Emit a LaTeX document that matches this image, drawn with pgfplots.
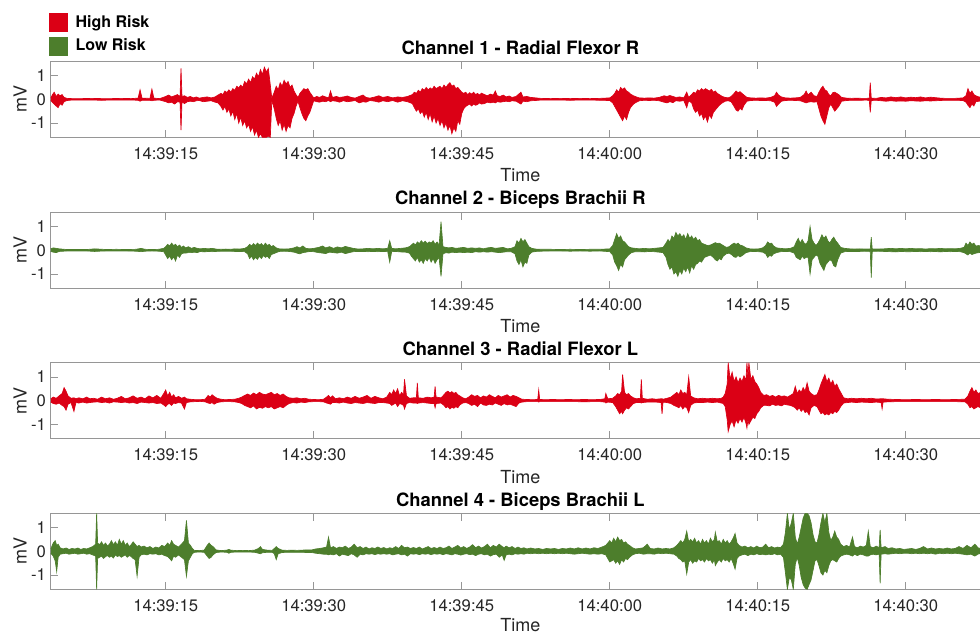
\documentclass[border=0pt]{standalone}
\usepackage{fontspec}
\setmainfont{TeX Gyre Heros}
\usepackage{pgfplots}
\pgfplotsset{compat=1.18}
\usepackage{pgfplotstable}
\usepgfplotslibrary{fillbetween}
\definecolor{hr}{RGB}{219,0,21}
\definecolor{lr}{RGB}{77,126,44}
\definecolor{axgray}{RGB}{150,150,150}
\definecolor{txt}{RGB}{38,38,38}

\pgfplotstableread{
t u l
3.35 0.05 -0.04
3.5 0.18 -0.12
3.7 0.30 -0.20
3.9 0.12 -0.28
4.1 0.22 -0.35
4.3 0.15 -0.18
4.5 0.20 -0.25
4.7 0.08 -0.10
5.0 0.04 -0.05
5.5 0.03 -0.03
6.5 0.03 -0.03
7.5 0.04 -0.03
8.5 0.03 -0.04
9.5 0.03 -0.03
10.5 0.04 -0.03
11.5 0.03 -0.03
12.2 0.05 -0.04
12.4 0.40 -0.08
12.6 0.05 -0.04
13.4 0.04 -0.04
13.6 0.43 -0.06
13.8 0.05 -0.04
14.4 0.03 -0.03
15.0 0.12 -0.10
15.3 0.18 -0.15
15.6 0.10 -0.12
15.9 0.15 -0.20
16.2 0.20 -0.10
16.45 0.10 -0.12
16.55 1.30 -1.30
16.65 0.12 -0.10
16.9 0.15 -0.18
17.2 0.08 -0.10
17.5 0.12 -0.08
17.8 0.06 -0.10
18.1 0.10 -0.06
18.4 0.05 -0.05
18.8 0.08 -0.10
19.2 0.10 -0.08
19.6 0.06 -0.06
20.0 0.10 -0.12
20.3 0.18 -0.15
20.6 0.25 -0.30
20.8 0.20 -0.45
21.0 0.35 -0.30
21.2 0.28 -0.55
21.4 0.40 -0.40
21.6 0.30 -0.70
21.8 0.45 -0.50
22.0 0.38 -0.85
22.2 0.55 -0.60
22.4 0.48 -1.00
22.6 0.60 -0.75
22.8 0.50 -1.10
23.0 0.75 -0.90
23.2 0.65 -1.20
23.4 0.85 -1.05
23.6 0.70 -1.35
23.8 0.95 -1.15
24.0 0.85 -1.50
24.2 1.10 -1.30
24.4 0.95 -1.60
24.6 1.25 -1.45
24.8 1.05 -1.60
25.0 1.35 -1.60
25.2 1.15 -1.60
25.4 1.30 -1.55
25.6 0.60 -1.60
25.75 0.05 -0.05
26.0 0.30 -0.40
26.2 0.55 -0.80
26.4 0.40 -1.10
26.6 0.70 -0.90
26.8 0.55 -1.30
27.0 0.80 -1.05
27.2 0.65 -1.35
27.4 0.75 -1.10
27.6 0.50 -1.20
27.8 0.60 -0.80
28.0 0.35 -0.60
28.2 0.20 -0.30
28.4 0.08 -0.08
28.6 0.25 -0.35
28.8 0.35 -0.60
29.0 0.45 -0.80
29.2 0.40 -0.90
29.4 0.45 -0.70
29.6 0.30 -0.55
29.8 0.18 -0.30
30.0 0.06 -0.06
30.3 0.12 -0.10
30.6 0.08 -0.12
30.9 0.15 -0.08
31.2 0.10 -0.10
31.5 0.06 -0.05
31.7 0.35 -0.10
31.9 0.08 -0.06
32.3 0.12 -0.08
32.6 0.08 -0.12
33.0 0.10 -0.06
33.4 0.14 -0.10
33.8 0.08 -0.08
34.2 0.05 -0.05
34.6 0.12 -0.15
35.0 0.18 -0.10
35.3 0.08 -0.12
35.7 0.05 -0.05
36.2 0.10 -0.08
36.6 0.15 -0.12
37.0 0.08 -0.06
37.5 0.12 -0.10
38.0 0.06 -0.05
38.5 0.10 -0.12
39.0 0.08 -0.06
39.5 0.12 -0.10
40.0 0.20 -0.18
40.2 0.30 -0.35
40.4 0.25 -0.50
40.6 0.38 -0.40
40.8 0.30 -0.60
41.0 0.45 -0.50
41.2 0.38 -0.75
41.4 0.50 -0.55
41.6 0.40 -0.85
41.8 0.48 -0.60
42.0 0.42 -0.95
42.2 0.55 -0.70
42.4 0.45 -1.00
42.6 0.50 -0.80
42.8 0.55 -1.10
43.0 0.45 -0.90
43.2 0.60 -1.20
43.4 0.50 -1.00
43.6 0.62 -1.30
43.8 0.70 -1.10
44.0 0.55 -1.45
44.2 0.60 -1.20
44.4 0.45 -1.35
44.6 0.50 -0.90
44.8 0.40 -1.05
45.0 0.30 -0.60
45.2 0.25 -0.40
45.4 0.30 -0.30
45.6 0.20 -0.25
45.8 0.28 -0.20
46.0 0.22 -0.28
46.2 0.30 -0.20
46.4 0.20 -0.25
46.6 0.25 -0.22
46.8 0.18 -0.15
47.0 0.26 -0.20
47.3 0.20 -0.18
47.6 0.15 -0.12
47.9 0.22 -0.15
48.2 0.18 -0.12
48.4 0.35 -0.15
48.6 0.15 -0.10
48.9 0.12 -0.12
49.2 0.18 -0.10
49.5 0.10 -0.08
49.8 0.14 -0.10
50.1 0.08 -0.06
50.5 0.12 -0.08
51.0 0.30 -0.20
51.2 0.10 -0.08
51.6 0.12 -0.10
52.0 0.08 -0.06
52.5 0.06 -0.05
53.0 0.04 -0.03
54.0 0.03 -0.03
55.0 0.04 -0.03
56.0 0.03 -0.04
57.0 0.04 -0.03
58.0 0.03 -0.03
59.0 0.04 -0.04
60.0 0.06 -0.05
60.3 0.15 -0.15
60.5 0.25 -0.30
60.7 0.40 -0.45
60.9 0.30 -0.60
61.1 0.50 -0.75
61.3 0.42 -0.90
61.5 0.48 -0.70
61.7 0.35 -0.85
61.9 0.30 -0.55
62.1 0.22 -0.35
62.4 0.15 -0.20
62.7 0.10 -0.12
63.0 0.06 -0.06
63.5 0.05 -0.04
64.0 0.06 -0.05
64.5 0.05 -0.04
65.0 0.08 -0.06
65.5 0.15 -0.12
65.8 0.12 -0.15
66.1 0.16 -0.10
66.4 0.12 -0.14
66.7 0.08 -0.06
67.1 0.10 -0.08
67.5 0.06 -0.05
67.8 0.30 -0.35
68.0 0.08 -0.06
68.3 0.20 -0.15
68.5 0.30 -0.40
68.7 0.25 -0.55
68.9 0.40 -0.45
69.1 0.35 -0.70
69.3 0.45 -0.60
69.5 0.38 -0.85
69.7 0.45 -0.70
69.9 0.40 -0.95
70.1 0.35 -0.65
70.3 0.42 -0.80
70.5 0.30 -0.55
70.7 0.35 -0.45
70.9 0.25 -0.35
71.1 0.20 -0.25
71.4 0.12 -0.15
71.7 0.08 -0.08
72.0 0.06 -0.06
72.3 0.12 -0.10
72.6 0.25 -0.30
72.8 0.35 -0.45
73.0 0.28 -0.50
73.2 0.32 -0.38
73.4 0.25 -0.45
73.6 0.18 -0.25
73.9 0.08 -0.08
74.3 0.06 -0.05
74.8 0.05 -0.04
75.3 0.06 -0.05
75.8 0.05 -0.05
76.3 0.08 -0.06
76.7 0.15 -0.12
76.9 0.30 -0.30
77.1 0.18 -0.20
77.4 0.10 -0.08
77.8 0.06 -0.05
78.3 0.05 -0.04
78.8 0.06 -0.05
79.3 0.08 -0.06
79.7 0.20 -0.12
79.9 0.35 -0.15
80.1 0.18 -0.12
80.4 0.30 -0.10
80.7 0.15 -0.12
81.0 0.12 -0.10
81.2 0.30 -0.40
81.4 0.45 -0.70
81.6 0.55 -0.90
81.8 0.40 -1.05
82.0 0.35 -0.70
82.2 0.20 -0.35
82.4 0.15 -0.20
82.6 0.28 -0.35
82.8 0.30 -0.50
83.0 0.25 -0.40
83.2 0.20 -0.30
83.5 0.08 -0.08
84.0 0.05 -0.05
84.5 0.04 -0.04
85.0 0.05 -0.04
85.5 0.04 -0.04
86.0 0.04 -0.03
86.3 0.05 -0.05
86.4 0.70 -0.55
86.5 0.05 -0.05
87.0 0.04 -0.04
87.5 0.08 -0.06
88.0 0.06 -0.08
88.5 0.10 -0.06
89.0 0.07 -0.08
89.5 0.10 -0.07
90.0 0.06 -0.08
90.5 0.09 -0.06
91.0 0.07 -0.07
91.5 0.10 -0.08
92.0 0.06 -0.06
92.5 0.09 -0.07
93.0 0.07 -0.06
93.5 0.05 -0.05
94.0 0.04 -0.04
95.0 0.04 -0.04
95.8 0.06 -0.05
96.1 0.15 -0.12
96.3 0.45 -0.25
96.5 0.25 -0.35
96.7 0.35 -0.20
96.9 0.20 -0.28
97.1 0.15 -0.10
97.4 0.10 -0.08
97.8 0.08 -0.06
98.5 0.06 -0.05
}\chA

\pgfplotstableread{
t u l
3.35 0.06 -0.05
3.6 0.10 -0.08
3.9 0.08 -0.10
4.2 0.06 -0.05
5.0 0.03 -0.03
6.0 0.03 -0.03
7.0 0.03 -0.03
7.8 0.06 -0.05
8.2 0.05 -0.04
9.0 0.03 -0.03
10.0 0.04 -0.03
11.0 0.03 -0.03
12.0 0.04 -0.04
12.5 0.08 -0.06
12.9 0.04 -0.04
13.6 0.03 -0.03
14.3 0.04 -0.04
14.8 0.08 -0.06
15.0 0.15 -0.20
15.2 0.25 -0.35
15.4 0.18 -0.25
15.6 0.30 -0.40
15.8 0.20 -0.28
16.0 0.25 -0.45
16.2 0.15 -0.20
16.4 0.22 -0.30
16.6 0.12 -0.15
16.8 0.18 -0.12
17.0 0.10 -0.12
17.3 0.15 -0.10
17.6 0.08 -0.10
17.9 0.12 -0.08
18.2 0.08 -0.10
18.5 0.06 -0.05
18.9 0.08 -0.07
19.3 0.06 -0.05
19.7 0.08 -0.06
20.1 0.05 -0.05
20.6 0.04 -0.04
21.1 0.05 -0.04
21.6 0.04 -0.04
22.0 0.06 -0.05
22.5 0.05 -0.05
23.0 0.08 -0.06
23.3 0.15 -0.15
23.5 0.25 -0.35
23.7 0.18 -0.25
23.9 0.28 -0.40
24.1 0.20 -0.30
24.3 0.30 -0.38
24.5 0.22 -0.25
24.7 0.28 -0.35
24.9 0.18 -0.22
25.1 0.30 -0.30
25.3 0.20 -0.25
25.5 0.25 -0.35
25.7 0.15 -0.18
25.9 0.20 -0.15
26.2 0.10 -0.10
26.5 0.06 -0.05
27.0 0.05 -0.04
27.5 0.06 -0.05
28.0 0.10 -0.08
28.3 0.15 -0.12
28.6 0.10 -0.15
28.9 0.18 -0.10
29.2 0.08 -0.08
29.6 0.06 -0.05
30.0 0.08 -0.06
30.5 0.12 -0.10
30.9 0.18 -0.12
31.2 0.10 -0.14
31.6 0.15 -0.08
32.0 0.08 -0.10
32.4 0.14 -0.12
32.8 0.10 -0.08
33.2 0.16 -0.14
33.6 0.12 -0.10
34.0 0.08 -0.06
34.5 0.05 -0.05
35.0 0.06 -0.05
35.5 0.08 -0.06
36.0 0.06 -0.05
36.5 0.08 -0.06
37.0 0.06 -0.05
37.5 0.08 -0.06
37.7 0.40 -0.50
37.9 0.08 -0.06
38.3 0.06 -0.05
38.8 0.08 -0.07
39.3 0.10 -0.08
39.7 0.15 -0.12
39.9 0.22 -0.25
40.1 0.30 -0.35
40.3 0.22 -0.45
40.5 0.35 -0.30
40.7 0.28 -0.50
40.9 0.40 -0.40
41.1 0.30 -0.55
41.3 0.38 -0.35
41.5 0.28 -0.45
41.7 0.35 -0.30
41.9 0.30 -0.50
42.1 0.40 -0.35
42.3 0.25 -0.55
42.5 0.35 -0.40
42.7 0.20 -0.30
42.9 1.20 -1.10
43.1 0.15 -0.15
43.4 0.12 -0.10
43.7 0.10 -0.12
44.0 0.12 -0.08
44.4 0.08 -0.10
44.8 0.10 -0.08
45.2 0.12 -0.10
45.6 0.08 -0.08
46.0 0.10 -0.10
46.4 0.08 -0.06
46.8 0.10 -0.08
47.2 0.06 -0.06
47.6 0.10 -0.08
48.0 0.12 -0.06
48.4 0.08 -0.08
48.8 0.10 -0.10
49.2 0.12 -0.08
49.6 0.06 -0.06
50.0 0.08 -0.06
50.4 0.15 -0.15
50.6 0.40 -0.45
50.8 0.30 -0.60
51.0 0.50 -0.40
51.2 0.35 -0.70
51.4 0.45 -0.50
51.6 0.30 -0.55
51.8 0.15 -0.20
52.1 0.08 -0.08
52.5 0.05 -0.05
53.0 0.04 -0.04
54.0 0.04 -0.03
55.0 0.03 -0.03
56.0 0.04 -0.04
57.0 0.03 -0.03
58.0 0.04 -0.04
59.0 0.04 -0.03
60.0 0.06 -0.06
60.3 0.20 -0.20
60.5 0.45 -0.50
60.7 0.70 -0.65
60.9 0.50 -0.85
61.1 0.60 -0.60
61.3 0.40 -0.70
61.5 0.35 -0.40
61.7 0.25 -0.30
61.9 0.15 -0.20
62.2 0.10 -0.10
62.6 0.08 -0.06
63.0 0.06 -0.06
63.5 0.08 -0.07
64.0 0.06 -0.05
64.5 0.08 -0.06
65.0 0.10 -0.08
65.4 0.12 -0.10
65.7 0.30 -0.30
65.9 0.45 -0.60
66.1 0.35 -0.80
66.3 0.60 -0.70
66.5 0.50 -1.00
66.7 0.75 -0.90
66.9 0.60 -1.10
67.1 0.70 -0.85
67.3 0.55 -1.00
67.5 0.65 -0.75
67.7 0.45 -0.90
67.9 0.70 -0.70
68.1 0.50 -0.95
68.3 0.60 -0.65
68.5 0.45 -0.80
68.7 0.55 -0.60
68.9 0.40 -0.55
69.1 0.45 -0.45
69.3 0.30 -0.50
69.6 0.25 -0.30
69.9 0.20 -0.25
70.2 0.22 -0.20
70.5 0.28 -0.30
70.7 0.32 -0.40
70.9 0.28 -0.45
71.1 0.30 -0.35
71.3 0.25 -0.40
71.5 0.20 -0.25
71.8 0.12 -0.15
72.1 0.15 -0.12
72.4 0.25 -0.20
72.6 0.30 -0.28
72.8 0.25 -0.30
73.0 0.30 -0.22
73.2 0.22 -0.28
73.5 0.18 -0.20
73.8 0.10 -0.10
74.2 0.06 -0.06
74.6 0.05 -0.05
75.1 0.06 -0.06
75.5 0.10 -0.08
75.8 0.20 -0.15
76.0 0.35 -0.30
76.2 0.28 -0.22
76.4 0.30 -0.25
76.6 0.18 -0.15
76.9 0.10 -0.10
77.3 0.08 -0.06
77.8 0.06 -0.05
78.3 0.08 -0.06
78.7 0.15 -0.12
78.9 0.35 -0.30
79.1 0.50 -0.35
79.3 0.30 -0.40
79.5 0.45 -0.25
79.7 0.30 -0.35
79.9 0.25 -0.30
80.1 0.40 -0.30
80.3 1.00 -1.00
80.5 0.45 -0.40
80.7 0.30 -0.30
80.9 0.20 -0.20
81.1 0.30 -0.25
81.3 0.45 -0.55
81.5 0.65 -0.70
81.7 0.50 -0.85
81.9 0.60 -0.60
82.1 0.40 -0.50
82.3 0.30 -0.40
82.5 0.45 -0.45
82.7 0.55 -0.65
82.9 0.40 -0.70
83.1 0.30 -0.40
83.4 0.12 -0.12
83.8 0.08 -0.06
84.3 0.06 -0.05
84.8 0.05 -0.05
85.3 0.06 -0.05
85.8 0.05 -0.04
86.4 0.05 -0.05
86.5 0.55 -1.15
86.6 0.05 -0.05
87.2 0.05 -0.04
87.8 0.06 -0.05
88.5 0.08 -0.06
89.0 0.06 -0.07
89.5 0.08 -0.05
90.0 0.06 -0.06
90.5 0.08 -0.06
91.0 0.06 -0.05
91.5 0.07 -0.06
92.0 0.05 -0.05
92.5 0.07 -0.06
93.0 0.06 -0.05
93.5 0.08 -0.07
94.0 0.06 -0.05
94.5 0.07 -0.06
95.0 0.06 -0.05
95.5 0.08 -0.06
95.9 0.12 -0.10
96.1 0.30 -0.15
96.3 0.20 -0.20
96.5 0.35 -0.12
96.7 0.25 -0.18
96.9 0.30 -0.15
97.1 0.18 -0.12
97.4 0.20 -0.10
97.8 0.12 -0.08
98.5 0.08 -0.06
}\chB

\pgfplotstableread{
t u l
3.35 0.08 -0.06
3.6 0.15 -0.12
3.9 0.10 -0.15
4.2 0.20 -0.10
4.5 0.30 -0.20
4.7 0.55 -0.25
4.9 0.40 -0.40
5.1 0.20 -0.15
5.4 0.10 -0.08
5.7 0.12 -0.45
5.9 0.08 -0.08
6.2 0.12 -0.10
6.6 0.08 -0.06
7.0 0.15 -0.10
7.3 0.08 -0.08
7.7 0.10 -0.06
8.1 0.06 -0.05
8.5 0.15 -0.08
8.9 0.08 -0.06
9.3 0.12 -0.10
9.7 0.06 -0.05
10.1 0.10 -0.06
10.5 0.18 -0.08
10.9 0.08 -0.06
11.3 0.12 -0.10
11.7 0.20 -0.08
12.1 0.10 -0.12
12.5 0.15 -0.06
12.9 0.08 -0.08
13.3 0.20 -0.10
13.7 0.12 -0.08
14.1 0.22 -0.12
14.5 0.10 -0.10
14.8 0.30 -0.18
15.0 0.45 -0.25
15.2 0.20 -0.15
15.4 0.35 -0.12
15.6 0.15 -0.20
15.8 0.25 -0.10
16.0 0.12 -0.12
16.3 0.18 -0.08
16.6 0.10 -0.10
16.9 0.15 -0.35
17.1 0.08 -0.08
17.5 0.06 -0.05
18.0 0.04 -0.04
18.5 0.04 -0.03
19.0 0.06 -0.05
19.3 0.22 -0.10
19.5 0.15 -0.12
19.7 0.25 -0.08
19.9 0.18 -0.15
20.2 0.10 -0.08
20.6 0.06 -0.05
21.0 0.04 -0.04
21.5 0.05 -0.04
22.0 0.06 -0.05
22.4 0.10 -0.08
22.7 0.15 -0.12
23.0 0.22 -0.20
23.3 0.28 -0.25
23.6 0.22 -0.30
23.9 0.32 -0.22
24.2 0.25 -0.35
24.5 0.35 -0.28
24.8 0.28 -0.32
25.1 0.25 -0.25
25.4 0.30 -0.30
25.7 0.35 -0.25
26.0 0.25 -0.35
26.3 0.30 -0.30
26.6 0.22 -0.25
26.9 0.28 -0.30
27.2 0.18 -0.20
27.5 0.12 -0.12
27.9 0.10 -0.08
28.3 0.12 -0.10
28.7 0.08 -0.06
29.1 0.10 -0.08
29.5 0.06 -0.05
30.0 0.05 -0.04
30.5 0.04 -0.04
31.0 0.06 -0.05
31.3 0.15 -0.10
31.5 0.22 -0.12
31.7 0.12 -0.15
31.9 0.20 -0.08
32.2 0.08 -0.08
32.6 0.12 -0.10
33.0 0.08 -0.06
33.4 0.15 -0.10
33.8 0.10 -0.12
34.2 0.18 -0.08
34.6 0.10 -0.10
35.0 0.15 -0.12
35.4 0.22 -0.08
35.8 0.10 -0.10
36.2 0.18 -0.12
36.6 0.12 -0.08
37.0 0.08 -0.08
37.4 0.15 -0.10
37.7 0.35 -0.12
37.9 0.25 -0.20
38.1 0.45 -0.15
38.3 0.30 -0.10
38.5 0.50 -0.25
38.7 0.20 -0.12
38.9 0.35 -0.15
39.1 0.25 -0.20
39.2 0.90 -0.35
39.4 0.20 -0.12
39.7 0.10 -0.08
40.1 0.12 -0.10
40.4 0.12 -0.10
40.5 0.75 -0.12
40.6 0.12 -0.10
41.1 0.10 -0.08
41.5 0.15 -0.10
41.9 0.12 -0.12
42.2 0.15 -0.12
42.3 0.60 -0.30
42.4 0.15 -0.12
42.9 0.12 -0.10
43.2 0.25 -0.20
43.4 0.35 -0.30
43.6 0.40 -0.25
43.8 0.32 -0.35
44.0 0.38 -0.28
44.2 0.30 -0.32
44.4 0.35 -0.25
44.6 0.25 -0.30
44.8 0.20 -0.18
45.1 0.12 -0.10
45.4 0.08 -0.08
45.7 0.15 -0.12
46.0 0.25 -0.20
46.3 0.18 -0.15
46.6 0.22 -0.25
46.9 0.12 -0.10
47.2 0.20 -0.18
47.5 0.15 -0.20
47.8 0.25 -0.15
48.1 0.18 -0.18
48.4 0.12 -0.10
48.7 0.22 -0.15
49.0 0.15 -0.20
49.3 0.20 -0.12
49.6 0.25 -0.18
49.9 0.15 -0.15
50.2 0.22 -0.20
50.5 0.18 -0.25
50.8 0.12 -0.10
51.1 0.06 -0.06
51.6 0.05 -0.04
52.2 0.04 -0.04
52.7 0.05 -0.04
52.8 0.45 -0.06
52.9 0.05 -0.04
53.5 0.04 -0.04
54.2 0.05 -0.04
55.0 0.04 -0.04
55.8 0.05 -0.04
56.6 0.04 -0.04
57.4 0.05 -0.05
58.2 0.04 -0.04
59.0 0.05 -0.04
59.5 0.08 -0.06
59.6 0.30 -0.10
59.8 0.08 -0.06
60.3 0.10 -0.08
60.6 0.20 -0.25
60.8 0.30 -0.40
61.0 0.25 -0.55
61.2 0.40 -0.45
61.3 1.10 -0.55
61.5 0.35 -0.40
61.7 0.25 -0.30
61.9 0.30 -0.35
62.1 0.20 -0.25
62.4 0.12 -0.12
62.7 0.08 -0.08
63.1 0.10 -0.08
63.2 0.90 -0.10
63.3 0.10 -0.08
63.8 0.06 -0.06
64.3 0.08 -0.06
64.7 0.06 -0.06
65.2 0.08 -0.08
65.3 0.08 -0.55
65.4 0.06 -0.06
65.8 0.10 -0.08
66.2 0.15 -0.12
66.5 0.25 -0.20
66.8 0.35 -0.25
67.0 0.25 -0.30
67.2 0.45 -0.20
67.4 0.30 -0.35
67.6 0.35 -0.25
67.8 0.25 -0.30
68.0 1.00 -0.50
68.2 0.20 -0.20
68.5 0.12 -0.10
68.9 0.08 -0.08
69.4 0.10 -0.08
69.9 0.08 -0.06
70.4 0.10 -0.08
70.9 0.08 -0.06
71.3 0.10 -0.10
71.5 0.15 -0.12
71.7 0.30 -0.25
71.9 0.70 -0.80
72.0 1.60 -1.30
72.2 0.90 -1.00
72.4 1.20 -0.85
72.6 0.80 -1.10
72.8 1.00 -0.80
73.0 0.75 -0.95
73.2 0.95 -0.75
73.4 0.80 -0.90
73.6 1.05 -0.70
73.8 0.85 -0.95
73.9 1.60 -1.15
74.0 1.00 -0.80
74.1 1.60 -1.00
74.3 0.90 -0.85
74.5 1.05 -0.70
74.7 0.80 -0.75
74.9 0.70 -0.55
75.1 0.55 -0.45
75.3 0.35 -0.30
75.6 0.22 -0.20
75.9 0.25 -0.20
76.2 0.18 -0.22
76.5 0.22 -0.15
76.8 0.15 -0.20
77.1 0.22 -0.18
77.4 0.18 -0.22
77.7 0.20 -0.15
78.0 0.15 -0.18
78.3 0.22 -0.20
78.6 0.30 -0.25
78.8 0.60 -0.30
79.0 0.30 -0.40
79.2 0.45 -0.30
79.4 0.35 -0.45
79.6 0.55 -0.35
79.8 0.40 -0.50
80.0 0.75 -0.45
80.2 0.40 -0.60
80.4 0.30 -0.30
80.7 0.22 -0.20
81.0 0.25 -0.25
81.2 0.45 -0.40
81.4 0.70 -0.55
81.6 0.90 -0.50
81.8 1.10 -0.60
82.0 0.80 -0.55
82.2 0.95 -0.60
82.4 0.70 -0.50
82.6 0.85 -0.55
82.8 0.60 -0.45
83.0 0.70 -0.50
83.2 0.50 -0.40
83.4 0.35 -0.25
83.7 0.12 -0.10
84.1 0.08 -0.08
84.5 0.10 -0.06
85.0 0.08 -0.08
85.5 0.10 -0.06
86.0 0.08 -0.07
86.5 0.10 -0.08
87.0 0.07 -0.06
87.5 0.08 -0.08
87.6 0.08 -0.35
87.7 0.08 -0.06
88.2 0.06 -0.05
89.0 0.05 -0.04
90.0 0.04 -0.04
91.0 0.05 -0.04
92.0 0.04 -0.04
93.0 0.05 -0.04
94.0 0.04 -0.04
95.0 0.05 -0.04
96.0 0.06 -0.05
96.3 0.20 -0.15
96.5 0.40 -0.30
96.7 0.55 -0.25
96.9 0.35 -0.35
97.1 0.45 -0.30
97.3 0.30 -0.25
97.6 0.35 -0.30
98.0 0.25 -0.20
98.5 0.20 -0.15
}\chC

\pgfplotstableread{
t u l
3.35 0.10 -0.08
3.6 0.35 -0.20
3.8 0.45 -0.40
3.95 0.25 -0.85
4.1 0.30 -0.25
4.3 0.15 -0.12
4.6 0.10 -0.10
4.9 0.14 -0.08
5.2 0.08 -0.12
5.5 0.12 -0.10
5.8 0.10 -0.08
6.1 0.14 -0.12
6.4 0.08 -0.10
6.7 0.12 -0.08
7.0 0.10 -0.12
7.3 0.15 -0.10
7.6 0.20 -0.15
7.9 0.30 -0.20
8.0 1.60 -1.60
8.1 0.35 -0.30
8.3 0.28 -0.25
8.5 0.40 -0.20
8.7 0.25 -0.30
8.9 0.35 -0.22
9.1 0.22 -0.18
9.3 0.30 -0.25
9.5 0.45 -0.20
9.7 0.28 -0.28
9.9 0.40 -0.15
10.1 0.25 -0.22
10.3 0.50 -0.18
10.5 0.30 -0.25
10.7 0.45 -0.20
10.9 0.25 -0.15
11.1 0.35 -0.25
11.3 0.20 -0.18
11.5 0.28 -0.22
11.7 0.40 -0.30
11.9 0.30 -0.35
12.1 0.20 -1.05
12.3 0.25 -0.25
12.5 0.18 -0.15
12.8 0.22 -0.12
13.1 0.15 -0.15
13.4 0.20 -0.10
13.7 0.12 -0.12
14.0 0.18 -0.10
14.3 0.14 -0.15
14.6 0.25 -0.12
14.9 0.20 -0.18
15.2 0.35 -0.22
15.4 0.25 -0.30
15.6 0.45 -0.40
15.8 0.30 -0.20
16.0 0.25 -0.25
16.3 0.18 -0.15
16.6 0.30 -0.25
16.9 0.45 -0.35
17.1 1.30 -1.05
17.3 0.35 -0.40
17.5 0.25 -0.25
17.7 0.12 -0.10
17.9 0.04 -0.04
18.4 0.03 -0.03
18.9 0.05 -0.04
19.2 0.25 -0.20
19.4 0.35 -0.30
19.6 0.25 -0.25
19.8 0.20 -0.15
20.1 0.06 -0.05
20.6 0.03 -0.03
21.2 0.05 -0.04
21.4 0.08 -0.08
21.6 0.05 -0.04
22.2 0.03 -0.03
22.8 0.04 -0.03
23.4 0.03 -0.03
24.0 0.05 -0.04
24.4 0.12 -0.08
24.6 0.20 -0.10
24.8 0.08 -0.06
25.3 0.05 -0.04
25.8 0.04 -0.04
26.0 0.12 -0.10
26.2 0.20 -0.35
26.4 0.12 -0.10
26.8 0.05 -0.05
27.3 0.04 -0.04
27.8 0.05 -0.04
28.3 0.04 -0.04
28.8 0.05 -0.04
29.3 0.06 -0.05
29.8 0.06 -0.05
30.2 0.10 -0.08
30.6 0.12 -0.10
31.0 0.15 -0.12
31.3 0.18 -0.12
31.5 0.60 -0.15
31.7 0.15 -0.12
32.0 0.20 -0.15
32.3 0.12 -0.10
32.6 0.18 -0.20
32.9 0.15 -0.12
33.2 0.22 -0.15
33.5 0.12 -0.18
33.8 0.18 -0.10
34.1 0.30 -0.15
34.4 0.15 -0.25
34.7 0.20 -0.12
35.0 0.12 -0.15
35.3 0.18 -0.10
35.6 0.10 -0.12
35.9 0.15 -0.10
36.2 0.12 -0.14
36.5 0.18 -0.10
36.8 0.12 -0.12
37.1 0.16 -0.10
37.4 0.10 -0.12
37.7 0.15 -0.10
38.0 0.12 -0.15
38.3 0.20 -0.12
38.6 0.12 -0.10
38.9 0.25 -0.15
39.2 0.15 -0.12
39.5 0.18 -0.20
39.8 0.12 -0.10
40.1 0.16 -0.12
40.4 0.12 -0.10
40.7 0.18 -0.14
41.0 0.10 -0.10
41.3 0.15 -0.12
41.6 0.20 -0.10
41.9 0.12 -0.14
42.2 0.16 -0.10
42.5 0.12 -0.12
42.8 0.18 -0.10
43.1 0.12 -0.14
43.4 0.15 -0.10
43.7 0.22 -0.12
44.0 0.12 -0.15
44.3 0.18 -0.10
44.6 0.25 -0.12
44.9 0.14 -0.16
45.2 0.20 -0.12
45.5 0.12 -0.10
45.8 0.18 -0.14
46.1 0.28 -0.12
46.4 0.15 -0.18
46.7 0.22 -0.12
47.0 0.14 -0.10
47.3 0.20 -0.15
47.6 0.30 -0.12
47.9 0.15 -0.20
48.2 0.25 -0.14
48.5 0.18 -0.12
48.8 0.30 -0.25
49.1 0.20 -0.15
49.3 0.15 -0.38
49.5 0.22 -0.15
49.8 0.15 -0.12
50.1 0.20 -0.15
50.4 0.12 -0.10
50.7 0.18 -0.12
51.0 0.12 -0.10
51.3 0.15 -0.12
51.6 0.10 -0.08
52.0 0.14 -0.10
52.4 0.10 -0.08
52.8 0.12 -0.10
53.2 0.08 -0.08
53.6 0.12 -0.10
54.0 0.10 -0.08
54.4 0.12 -0.10
54.8 0.08 -0.08
55.2 0.12 -0.10
55.6 0.10 -0.08
56.0 0.14 -0.10
56.4 0.10 -0.12
56.8 0.15 -0.10
57.2 0.10 -0.08
57.6 0.14 -0.10
58.0 0.10 -0.12
58.4 0.15 -0.10
58.8 0.12 -0.12
59.2 0.18 -0.10
59.6 0.25 -0.15
59.8 0.35 -0.30
60.0 0.45 -0.45
60.2 0.35 -0.40
60.4 0.55 -0.35
60.6 0.40 -0.50
60.8 0.60 -0.40
61.0 0.45 -0.55
61.2 0.50 -0.35
61.4 0.35 -0.45
61.6 0.40 -0.30
61.8 0.30 -0.35
62.0 0.25 -0.25
62.3 0.15 -0.15
62.6 0.10 -0.10
63.0 0.12 -0.08
63.4 0.15 -0.12
63.8 0.30 -0.10
64.1 0.12 -0.10
64.5 0.10 -0.12
64.9 0.14 -0.08
65.3 0.10 -0.10
65.7 0.12 -0.08
66.1 0.10 -0.10
66.5 0.15 -0.12
66.8 0.25 -0.20
67.0 0.35 -0.30
67.2 0.45 -0.35
67.4 0.35 -0.45
67.6 0.50 -0.40
67.8 0.85 -0.95
68.0 0.40 -0.45
68.2 0.50 -0.35
68.4 0.40 -0.50
68.6 0.55 -0.40
68.8 0.35 -0.45
69.0 0.45 -0.30
69.2 0.30 -0.40
69.4 0.50 -0.35
69.6 0.35 -0.45
69.8 0.45 -0.30
70.0 0.30 -0.40
70.2 0.55 -0.35
70.4 0.40 -0.50
70.6 0.50 -0.35
70.7 0.80 -0.60
70.9 0.40 -0.45
71.1 0.45 -0.35
71.3 0.30 -0.45
71.5 0.50 -0.30
71.7 0.35 -0.40
71.9 0.45 -0.35
72.1 0.30 -0.45
72.3 0.40 -0.30
72.5 0.55 -0.50
72.7 0.75 -0.75
72.9 0.35 -0.30
73.1 0.25 -0.20
73.4 0.18 -0.15
73.7 0.22 -0.12
74.0 0.15 -0.18
74.3 0.20 -0.12
74.6 0.14 -0.15
74.9 0.22 -0.10
75.2 0.15 -0.14
75.5 0.18 -0.12
75.8 0.30 -0.15
76.1 0.15 -0.12
76.4 0.20 -0.14
76.7 0.14 -0.10
77.0 0.18 -0.15
77.3 0.15 -0.12
77.6 0.30 -0.25
77.8 0.80 -0.90
78.0 1.60 -1.60
78.2 0.90 -1.10
78.4 1.20 -1.20
78.6 1.60 -1.60
78.8 0.60 -0.55
79.0 0.30 -0.25
79.2 0.60 -0.60
79.4 1.00 -1.10
79.6 1.40 -1.40
79.8 1.60 -1.55
80.0 1.60 -1.60
80.2 1.50 -1.40
80.4 1.20 -1.20
80.6 0.70 -0.80
80.8 0.40 -0.40
81.0 0.35 -0.35
81.2 0.70 -0.60
81.4 1.20 -0.90
81.6 1.60 -1.00
81.8 1.20 -0.80
82.0 1.60 -0.90
82.2 0.80 -0.60
82.4 0.45 -0.40
82.6 0.60 -0.35
82.8 0.85 -0.40
83.0 0.60 -0.45
83.2 0.50 -0.30
83.4 0.30 -0.20
83.7 0.20 -0.15
84.0 0.25 -0.12
84.3 0.18 -0.15
84.6 0.60 -0.20
84.8 0.20 -0.12
85.1 0.15 -0.18
85.4 0.22 -0.12
85.7 0.18 -0.15
86.0 0.25 -0.20
86.2 0.85 -0.20
86.4 0.20 -0.15
86.7 0.15 -0.12
87.0 0.22 -0.15
87.3 0.15 -0.12
87.4 0.90 -1.35
87.5 0.15 -0.12
87.9 0.20 -0.10
88.2 0.12 -0.12
88.6 0.15 -0.10
89.0 0.10 -0.08
89.4 0.12 -0.10
89.8 0.08 -0.08
90.2 0.10 -0.08
90.6 0.12 -0.10
91.0 0.08 -0.08
91.4 0.12 -0.10
91.8 0.20 -0.08
92.2 0.10 -0.10
92.6 0.14 -0.08
93.0 0.10 -0.12
93.4 0.12 -0.08
93.8 0.10 -0.10
94.2 0.14 -0.08
94.6 0.10 -0.10
95.0 0.12 -0.08
95.4 0.20 -0.10
95.8 0.12 -0.12
96.2 0.25 -0.15
96.6 0.15 -0.12
97.0 0.30 -0.20
97.4 0.12 -0.10
97.8 0.18 -0.12
98.5 0.12 -0.10
}\chD

\pgfplotsset{
 emg/.style={
  scale only axis, width=704.5pt, height=57pt,
  anchor=south west,
  xmin=3.345, xmax=98.54, ymin=-1.6, ymax=1.6,
  xtick={15,30,45,60,75,90},
  xticklabels={14:39:15,14:39:30,14:39:45,14:40:00,14:40:15,14:40:30},
  ytick={-1,0,1},
  tick align=inside,
  major tick length=5.5pt,
  axis line style={axgray, line width=0.6pt},
  every tick/.style={axgray, line width=0.6pt},
  tick label style={font=\fontsize{12.5}{15}\selectfont, text=txt},
  /pgf/number format/assume math mode=true,
  xticklabel style={anchor=base, yshift=-16.65pt},
  every axis title shift=0pt,
  title style={font=\bfseries\fontsize{13.8}{16}\selectfont, at={(axis description cs:0.5,1.096)}, anchor=base, text=black},
  xlabel=Time,
  xlabel style={font=\fontsize{13.5}{16}\selectfont, at={(axis description cs:0.5,-0.585)}, anchor=base, inner sep=0pt, text=txt},
  ylabel=mV,
  ylabel style={font=\fontsize{13.5}{16}\selectfont, at={(axis description cs:-0.0327,0.5)}, anchor=center, text=txt},
 },
}

\newcommand{\emgplot}[3]{%
 \addplot[#2, line width=0.5pt, name path=#3u, forget plot] table[x=t,y=u]{#1};
 \addplot[#2, line width=0.5pt, name path=#3l, forget plot] table[x=t,y=l]{#1};
 \addplot[fill=#2, draw=none, forget plot] fill between[of=#3u and #3l];
}

\begin{document}
\begin{tikzpicture}
\begin{axis}[emg, at={(38.03pt,372.5pt)}, title={Channel 1 - Radial Flexor R},
  legend image code/.code={\fill[#1] (0pt,-6.75pt) rectangle (13.5pt,6.75pt);},
  legend style={at={(axis description cs:-0.0023,1.634)}, anchor=north west, draw=none, fill=none, inner sep=0pt, row sep=3.5pt,
    font=\bfseries\fontsize{12}{14}\selectfont, text=black, nodes={inner sep=0pt},
    /tikz/every odd column/.append style={column sep=6.2pt}},
  legend cell align=left]
\emgplot{\chA}{hr}{a}
\addlegendimage{hr, fill=hr}\addlegendentry{High Risk}
\addlegendimage{lr, fill=lr}\addlegendentry{Low Risk}
\end{axis}

\begin{axis}[emg, at={(38.03pt,259.3pt)}, title={Channel 2 - Biceps Brachii R}]
\emgplot{\chB}{lr}{b}
\end{axis}

\begin{axis}[emg, at={(38.03pt,146.5pt)}, title={Channel 3 - Radial Flexor L}]
\emgplot{\chC}{hr}{c}
\end{axis}

\begin{axis}[emg, at={(38.03pt,33.5pt)}, title={Channel 4 - Biceps Brachii L},
  xlabel style={at={(axis description cs:0.5,-0.56)}}]
\emgplot{\chD}{lr}{d}
\end{axis}
\pgfresetboundingbox
\useasboundingbox (0,0) rectangle (735pt,475.5pt);
\end{tikzpicture}
\end{document}
